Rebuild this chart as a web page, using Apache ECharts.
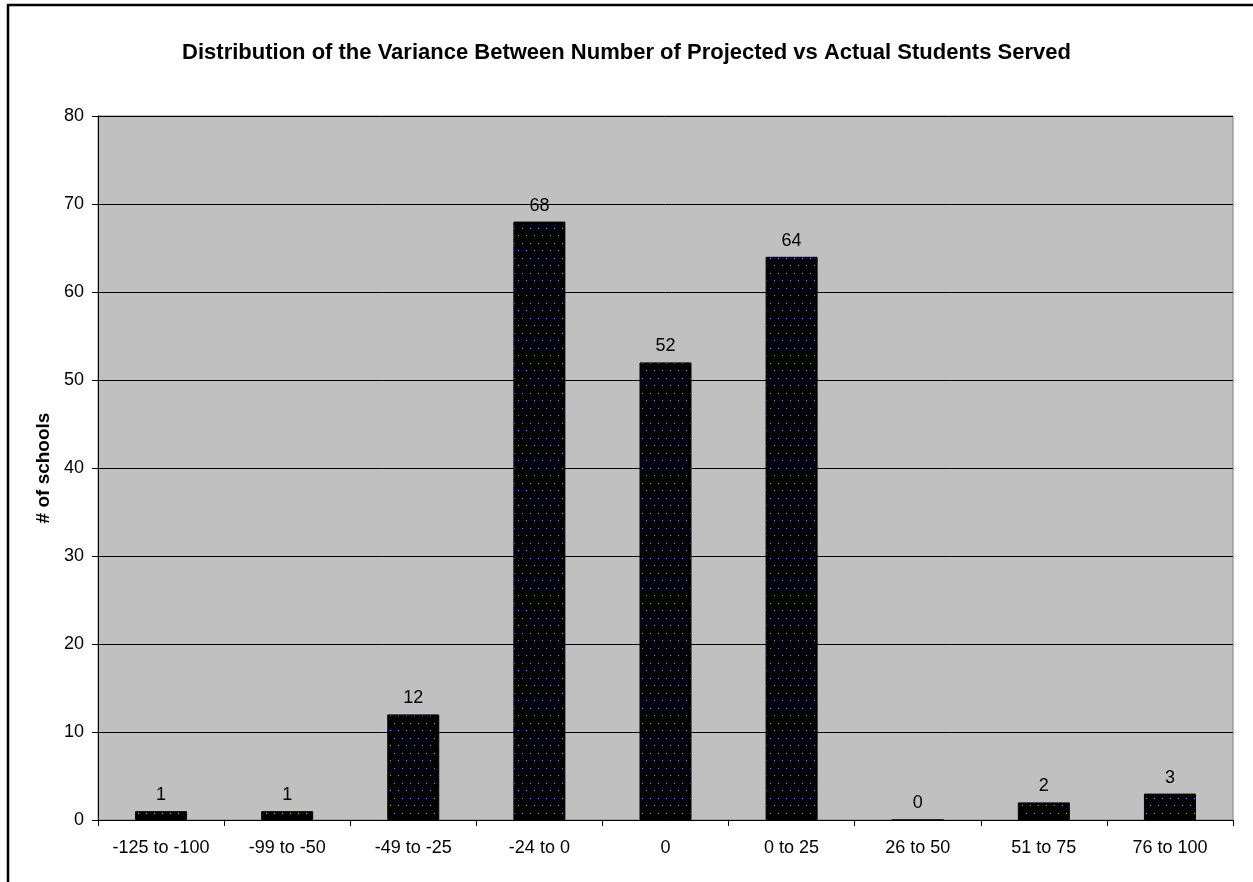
<!DOCTYPE html>
<html>
<head>
<meta charset="utf-8">
<style>
  html, body { margin: 0; padding: 0; background: #fff; }
  #chart { width: 1253px; height: 882px; }
</style>
<script src="https://cdn.jsdelivr.net/npm/echarts@6/dist/echarts.min.js"></script>
</head>
<body>
<div id="chart"></div>
<script>
// 数据
var categories = ['-125 to -100', '-99 to -50', '-49 to -25', '-24 to 0', '0', '0 to 25', '26 to 50', '51 to 75', '76 to 100'];
var schoolCounts = [1, 1, 12, 68, 52, 64, 0, 2, 3];
var yTicks = [0, 10, 20, 30, 40, 50, 60, 70, 80];

// 黑底蓝点的填充图案
function dotPattern() {
    var c = document.createElement('canvas');
    c.width = 8;
    c.height = 15;
    var ctx = c.getContext('2d');
    ctx.fillStyle = '#000';
    ctx.fillRect(0, 0, 8, 15);
    ctx.fillStyle = '#7a7ae0';
    ctx.fillRect(2, 3, 1, 1);
    ctx.fillRect(6, 10, 1, 1);
    return c;
}

var myChart = echarts.init(document.getElementById('chart'));
var option = {
    backgroundColor: '#fff',
    animation: false,
    title: {
        text: 'Distribution of the Variance Between Number of Projected vs Actual Students Served',
        left: 'center',
        top: 37,
        textStyle: { fontFamily: 'Arial', fontSize: 22, fontWeight: 'bold', color: '#000' }
    },
    graphic: [{
        type: 'rect',
        shape: { x: 8, y: 5, width: 1300, height: 1000 },
        style: { fill: 'none', stroke: '#000', lineWidth: 2.5 },
        z: 100
    }],
    grid: {
        left: 98, right: 20, top: 116, bottom: 62,
        show: true,
        backgroundColor: '#c0c0c0',
        borderColor: '#808080',
        borderWidth: 1
    },
    xAxis: {
        type: 'category',
        data: categories,
        axisLine: { lineStyle: { color: '#000', width: 1 } },
        axisTick: { show: true, interval: 0, length: 6, lineStyle: { color: '#000' } },
        axisLabel: { interval: 0, fontFamily: 'Arial', fontSize: 18, color: '#000', margin: 19 }
    },
    yAxis: {
        type: 'value',
        min: yTicks[0],
        max: yTicks[yTicks.length - 1],
        interval: 10,
        name: '# of schools',
        nameLocation: 'middle',
        nameGap: 42,
        nameTextStyle: { fontFamily: 'Arial', fontSize: 19, fontWeight: 'bold', color: '#000' },
        axisLine: { show: true, lineStyle: { color: '#000' } },
        axisTick: { show: true, length: 6, lineStyle: { color: '#000' } },
        axisLabel: { fontFamily: 'Arial', fontSize: 18, color: '#000', margin: 14 },
        splitLine: { lineStyle: { color: '#000', width: 1 } }
    },
    series: [{
        type: 'bar',
        data: schoolCounts,
        barWidth: 52,
        itemStyle: {
            color: { image: dotPattern(), repeat: 'repeat' },
            borderColor: '#000',
            borderWidth: 1
        },
        label: {
            show: true,
            position: 'top',
            distance: 7,
            fontFamily: 'Arial',
            fontSize: 18,
            color: '#000'
        }
    }]
};
myChart.setOption(option);
</script>
</body>
</html>
